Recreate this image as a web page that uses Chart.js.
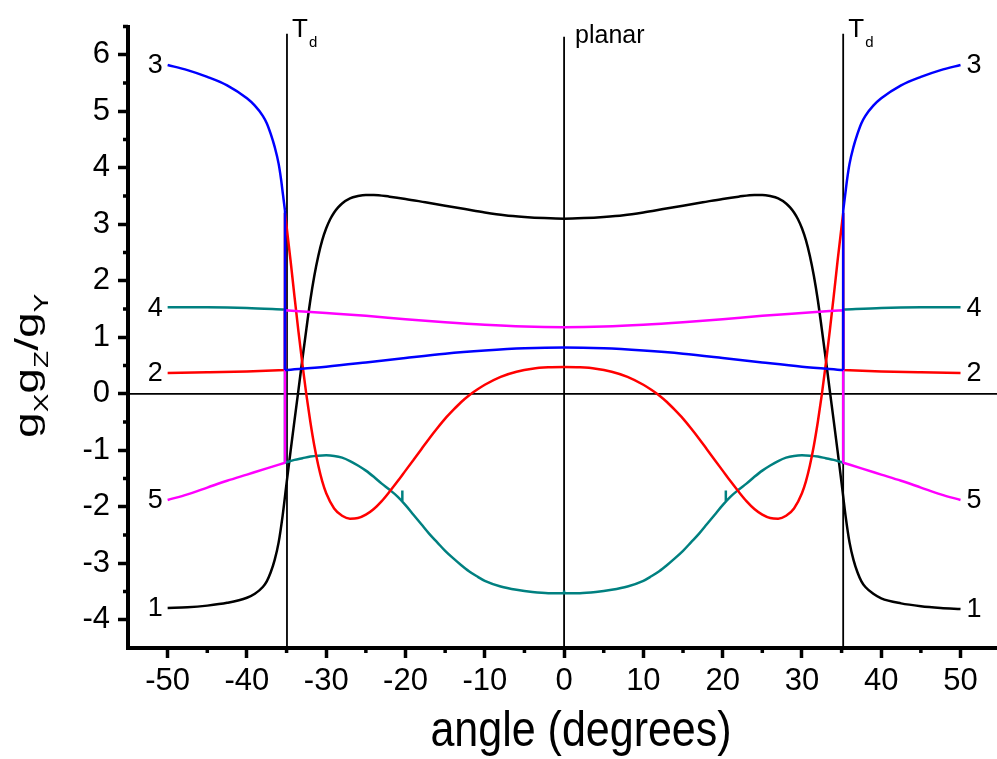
<!DOCTYPE html>
<html>
<head>
<meta charset="utf-8">
<script src="https://cdn.jsdelivr.net/npm/chart.js@4.4.1/dist/chart.umd.min.js"></script>
<style>
  html, body { margin: 0; padding: 0; background: #fff; }
  canvas { display: block; }
</style>
</head>
<body>
<canvas id="chart" width="997" height="759"></canvas>
<script>
// tick values
var xMajorTicks = [-50, -40, -30, -20, -10, 0, 10, 20, 30, 40, 50];
var xMinorTicks = [-45, -35, -25, -15, -5, 5, 15, 25, 35, 45];
var yMajorTicks = [-4, -3, -2, -1, 0, 1, 2, 3, 4, 5, 6];
var yMinorTicks = [-3.5, -2.5, -1.5, -0.5, 0.5, 1.5, 2.5, 3.5, 4.5, 5.5, 6.5];

// curve 1 (black)
var curve1X = [-50, -47.5, -45, -42.5, -40, -39, -38, -37.5, -37, -36.5, -36, -35.5, -35, -34.5, -34, -33.5, -33, -32.5, -32, -31.5, -31, -30.5, -30, -29.5, -29, -28.5, -28, -27, -26, -25, -24, -22, -20, -17.5, -15, -12.5, -10, -7.5, -5, -2.5,
  0, 2.5, 5, 7.5, 10, 12.5, 15, 17.5, 20, 22, 24, 25, 26, 27, 28, 28.5, 29, 29.5, 30, 30.5, 31, 31.5, 32, 32.5, 33, 33.5, 34, 34.5, 35, 35.5, 36, 36.5, 37, 37.5, 38, 39, 40, 42.5, 45, 47.5, 50];
var curve1Y = [-3.79, -3.78, -3.75, -3.70, -3.61, -3.54, -3.42, -3.32, -3.16, -2.94, -2.63, -2.16, -1.58, -1.02, -0.47, 0.07, 0.62, 1.15, 1.66, 2.09, 2.44, 2.72, 2.93, 3.09, 3.21, 3.30, 3.37, 3.46, 3.50, 3.52, 3.52, 3.49, 3.45, 3.39, 3.33, 3.27, 3.21, 3.16, 3.13, 3.11,
  3.10, 3.11, 3.13, 3.16, 3.21, 3.27, 3.33, 3.39, 3.45, 3.49, 3.52, 3.52, 3.50, 3.46, 3.37, 3.30, 3.21, 3.09, 2.93, 2.72, 2.44, 2.09, 1.66, 1.15, 0.62, 0.07, -0.47, -1.02, -1.58, -2.16, -2.63, -2.94, -3.16, -3.32, -3.42, -3.54, -3.62, -3.71, -3.76, -3.79, -3.81];

// curve 3 (blue); null breaks the line at the jumps
var curve3X = [-50, -47.5, -45, -42.5, -40, -39, -38, -37.5, -37, -36.5, -36, -35.7, -35.45, -35.2,
  -35.2, -35.2, -35.2, -35.2,
  -35.2, -30, -25, -20, -15, -10, -5, 0, 5, 10, 15, 20, 25, 30, 35.2,
  35.2, 35.2, 35.2, 35.2,
  35.2, 35.45, 35.7, 36, 36.5, 37, 37.5, 38, 39, 40, 42.5, 45, 47.5, 50];
var curve3Y = [5.82, 5.73, 5.61, 5.46, 5.23, 5.10, 4.92, 4.79, 4.60, 4.37, 4.07, 3.80, 3.52, 3.24,
  null, 3.24, 0.42, null,
  0.42, 0.48, 0.555, 0.635, 0.71, 0.765, 0.805, 0.82, 0.805, 0.765, 0.71, 0.635, 0.555, 0.48, 0.42,
  null, 0.42, 3.24, null,
  3.24, 3.52, 3.80, 4.07, 4.37, 4.60, 4.79, 4.92, 5.10, 5.23, 5.46, 5.61, 5.73, 5.82];

// curve 2 (red)
var curve2X = [-50, -45, -40, -35.2,
  -35.2, -35.2, -35.2, -35.2,
  -35.2, -34.5, -34, -33.5, -33, -32.5, -32, -31.5, -31, -30.5, -30, -29, -28, -27, -26, -25, -24, -23, -22, -21, -20, -19, -18, -17, -16, -15, -14, -13, -12, -11, -10, -8, -6, -4, -2,
  0, 2, 4, 6, 8, 10, 11, 12, 13, 14, 15, 16, 17, 18, 19, 20, 21, 22, 23, 24, 25, 26, 27, 28, 29, 30, 30.5, 31, 31.5, 32, 32.5, 33, 33.5, 34, 34.5, 35.2,
  35.2, 35.2, 35.2, 35.2,
  35.2, 40, 45, 50];
var curve2Y = [0.37, 0.38, 0.395, 0.42,
  null, 0.42, 3.20, null,
  3.20, 2.36, 1.72, 1.10, 0.52, -0.02, -0.50, -0.92, -1.27, -1.55, -1.76, -2.03, -2.16, -2.21, -2.20, -2.14, -2.04, -1.90, -1.73, -1.55, -1.36, -1.17, -0.98, -0.79, -0.61, -0.44, -0.29, -0.15, -0.03, 0.07, 0.16, 0.30, 0.39, 0.445, 0.468,
  0.473, 0.468, 0.445, 0.39, 0.30, 0.16, 0.07, -0.03, -0.15, -0.29, -0.44, -0.61, -0.79, -0.98, -1.17, -1.36, -1.55, -1.73, -1.90, -2.04, -2.14, -2.20, -2.21, -2.16, -2.03, -1.76, -1.55, -1.27, -0.92, -0.50, -0.02, 0.52, 1.10, 1.72, 2.36, 3.20,
  null, 3.20, 0.42, null,
  0.42, 0.395, 0.38, 0.37];

// curve 4 (teal), with the three small spikes drawn as short pieces at the end
var curve4X = [-50, -45, -40, -35.2,
  -35.2, -35.2, -35.2, -35.2,
  -35.2, -34, -33, -32, -31, -30, -29, -28, -27, -26, -25, -24, -23, -22, -21, -20, -19, -18, -17, -16, -15, -14, -13, -12, -11, -10, -8, -6, -4, -2,
  0, 2, 4, 6, 8, 10, 11, 12, 13, 14, 15, 16, 17, 18, 19, 20, 21, 22, 23, 24, 25, 26, 27, 28, 29, 30, 31, 32, 33, 34, 35.2,
  35.2, 35.2, 35.2, 35.2,
  35.2, 40, 45, 50,
  50, -20.4, -20.4, -20.4, 20.4, 20.4, 20.4, 0, 0];
var curve4Y = [1.53, 1.53, 1.52, 1.49,
  null, 1.49, -1.22, null,
  -1.22, -1.17, -1.14, -1.11, -1.095, -1.09, -1.10, -1.13, -1.19, -1.27, -1.36, -1.47, -1.59, -1.70, -1.82, -1.97, -2.14, -2.31, -2.48, -2.63, -2.78, -2.91, -3.03, -3.14, -3.23, -3.31, -3.41, -3.47, -3.51, -3.53,
  -3.53, -3.53, -3.51, -3.47, -3.41, -3.31, -3.23, -3.14, -3.03, -2.91, -2.78, -2.63, -2.48, -2.31, -2.14, -1.97, -1.82, -1.70, -1.59, -1.47, -1.36, -1.27, -1.19, -1.13, -1.10, -1.09, -1.095, -1.11, -1.14, -1.17, -1.22,
  null, -1.22, 1.49, null,
  1.49, 1.52, 1.53, 1.53,
  null, -1.91, -1.71, null, -1.91, -1.71, null, -3.53, -3.48];

// curve 5 (magenta)
var curve5X = [-50, -47.5, -45, -42.5, -40, -37.5, -35.2,
  -35.2, -35.2, -35.2, -35.2,
  -35.2, -30, -25, -20, -15, -10, -5, 0, 5, 10, 15, 20, 25, 30, 35.2,
  35.2, 35.2, 35.2, 35.2,
  35.2, 37.5, 40, 42.5, 45, 47.5, 50];
var curve5Y = [-1.88, -1.78, -1.66, -1.54, -1.43, -1.32, -1.22,
  null, -1.22, 1.48, null,
  1.48, 1.43, 1.38, 1.32, 1.265, 1.22, 1.19, 1.18, 1.19, 1.22, 1.265, 1.32, 1.38, 1.43, 1.48,
  null, 1.48, -1.22, null,
  -1.22, -1.32, -1.43, -1.54, -1.66, -1.78, -1.88];

// reference lines
var zeroLineX = [-55, 54.6];
var zeroLineY = [0, 0];
var tdLeftX = [-34.95, -34.95];
var tdRightX = [35.2, 35.2];
var tdLineY = [-4.5, 6.375];
var planarX = [0, 0];
var planarY = [-4.5, 6.32];

var FONT = "'Liberation Sans', Arial, Helvetica, sans-serif";

function points(xs, ys) {
  return xs.map(function (x, i) {
    return { x: x, y: ys[i] };
  });
}

function curve(xs, ys, color, label, first, last) {
  return {
    data: points(xs, ys),
    borderColor: color,
    borderWidth: 2.5,
    cubicInterpolationMode: "monotone",
    spanGaps: false,
    endLabel: label,
    labelFrom: first,
    labelTo: last,
  };
}

function refLine(xs, ys) {
  return {
    data: points(xs, ys),
    borderColor: "#000",
    borderWidth: 1.8,
    tension: 0,
  };
}

var decorPlugin = {
  id: "decor",
  afterDraw: function (chart) {
    var c = chart.ctx;
    var xs = chart.scales.x;
    var ys = chart.scales.y;
    var area = chart.chartArea;
    c.save();
    c.fillStyle = "#000";
    c.strokeStyle = "#000";

    // minor ticks
    c.lineWidth = 3.5;
    c.beginPath();
    xMinorTicks.forEach(function (v) {
      var px = xs.getPixelForValue(v);
      c.moveTo(px, area.bottom);
      c.lineTo(px, area.bottom + 5);
    });
    yMinorTicks.forEach(function (v) {
      var py = ys.getPixelForValue(v);
      c.moveTo(area.left - 5, py);
      c.lineTo(area.left, py);
    });
    c.stroke();

    // curve end labels
    c.font = "27px " + FONT;
    c.textBaseline = "middle";
    chart.data.datasets.forEach(function (ds) {
      if (!ds.endLabel) return;
      var first = ds.data[ds.labelFrom];
      var last = ds.data[ds.labelTo];
      c.textAlign = "right";
      c.fillText(ds.endLabel, xs.getPixelForValue(first.x) - 5, ys.getPixelForValue(first.y) + 1);
      c.textAlign = "left";
      c.fillText(ds.endLabel, xs.getPixelForValue(last.x) + 6, ys.getPixelForValue(last.y) + 1);
    });

    // T_d and planar marks
    c.textAlign = "left";
    c.textBaseline = "alphabetic";
    [tdLeftX[0], tdRightX[0]].forEach(function (v) {
      var px = xs.getPixelForValue(v);
      c.font = "26px " + FONT;
      c.fillText("T", px + 5, 37);
      c.font = "15px " + FONT;
      c.fillText("d", px + 22, 47);
    });
    c.font = "25px " + FONT;
    c.fillText("planar", xs.getPixelForValue(planarX[0]) + 11, 43);

    // x title
    c.save();
    c.translate(581, 746);
    c.scale(0.86, 1);
    c.font = "50px " + FONT;
    c.textAlign = "center";
    c.fillText("angle (degrees)", 0, 0);
    c.restore();

    // y title gXgZ/gY
    c.save();
    c.translate(38, 438);
    c.rotate(-Math.PI / 2);
    c.scale(1.4, 1);
    c.textAlign = "left";
    var pos = 0;
    var parts = [["g", 33, 0], ["X", 20, 10], ["g", 33, 0], ["Z", 20, 10], ["/", 33, 0], ["g", 33, 0], ["Y", 20, 10]];
    parts.forEach(function (p) {
      c.font = p[1] + "px " + FONT;
      c.fillText(p[0], pos, p[2]);
      pos += c.measureText(p[0]).width;
    });
    c.restore();

    c.restore();
  },
};

new Chart(document.getElementById("chart"), {
  type: "line",
  data: {
    datasets: [
      curve(curve3X, curve3Y, "#0000ff", "3", 0, curve3X.length - 1),
      curve(curve5X, curve5Y, "#ff00ff", "5", 0, curve5X.length - 1),
      curve(curve2X, curve2Y, "#ff0000", "2", 0, curve2X.length - 1),
      curve(curve4X, curve4Y, "#008080", "4", 0, curve4X.length - 10),
      curve(curve1X, curve1Y, "#000000", "1", 0, curve1X.length - 1),
      refLine(zeroLineX, zeroLineY),
      refLine(tdLeftX, tdLineY),
      refLine(tdRightX, tdLineY),
      refLine(planarX, planarY),
    ],
  },
  options: {
    responsive: false,
    animation: false,
    events: [],
    layout: { padding: { top: 15, right: 0, left: 0, bottom: 0 } },
    elements: { point: { radius: 0 } },
    plugins: { legend: { display: false }, tooltip: { enabled: false } },
    scales: {
      x: {
        type: "linear",
        min: -55,
        max: 54.6,
        afterFit: function (s) { s.height = 111; },
        afterBuildTicks: function (s) {
          s.ticks = xMajorTicks.map(function (v) { return { value: v }; });
        },
        grid: { drawOnChartArea: false, tickLength: 10, tickWidth: 3.5, tickColor: "#000" },
        border: { display: true, color: "#000", width: 4 },
        ticks: { color: "#000", font: { family: FONT, size: 31 }, padding: 5, maxRotation: 0 },
      },
      y: {
        type: "linear",
        min: -4.5,
        max: 6.5,
        afterFit: function (s) { s.width = 128; },
        afterBuildTicks: function (s) {
          s.ticks = yMajorTicks.map(function (v) { return { value: v }; });
        },
        grid: { drawOnChartArea: false, tickLength: 10, tickWidth: 3.5, tickColor: "#000" },
        border: { display: true, color: "#000", width: 4 },
        ticks: { color: "#000", font: { family: FONT, size: 31 }, padding: 8 },
      },
    },
  },
  plugins: [decorPlugin],
});
</script>
</body>
</html>
